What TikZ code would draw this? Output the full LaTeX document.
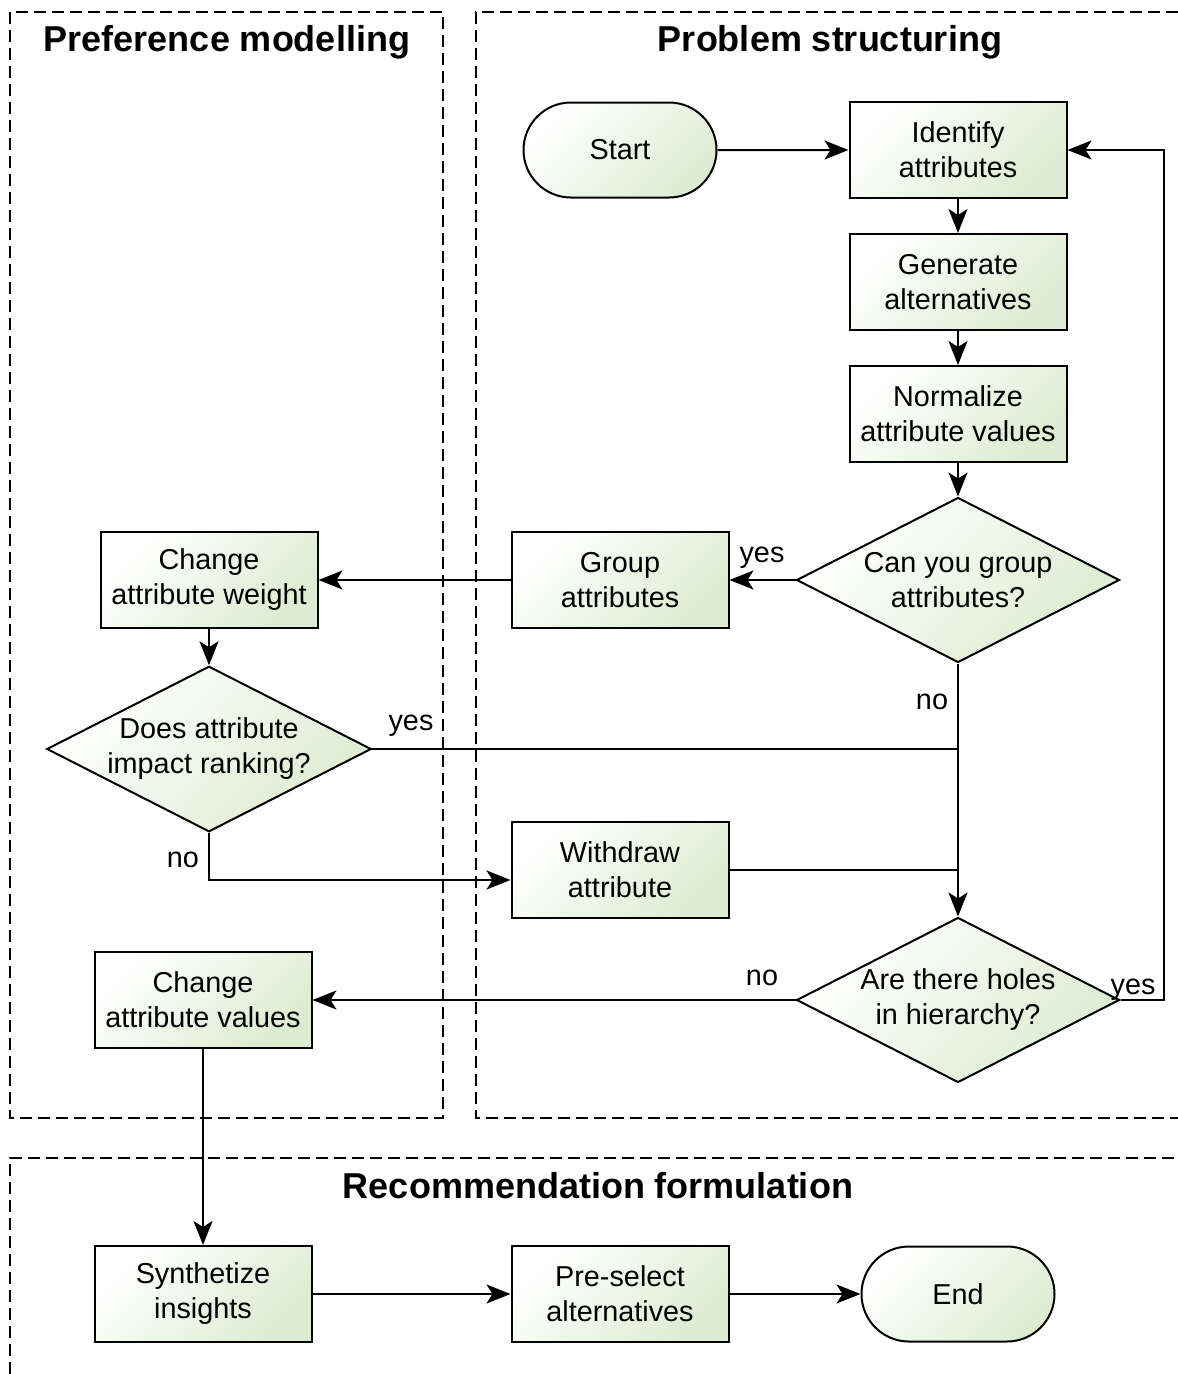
\documentclass[tikz,border=0pt]{standalone}
\usepackage{fontspec}
\setmainfont{Liberation Sans}
\usetikzlibrary{shapes.geometric,shapes.misc,arrows.meta}
\definecolor{boxgreen}{RGB}{220,236,209}

\begin{document}
\begin{tikzpicture}[x=1pt,y=-1pt,
	box/.style={draw, line width=2pt, top color=white, bottom color=boxgreen, shading angle=45, align=center, font=\fontsize{28.8}{35}\selectfont},
	proc/.style={box, rectangle, minimum width=217pt, minimum height=96pt, inner sep=0pt},
	terminal/.style={box, rounded rectangle, minimum width=193pt, minimum height=95pt, inner sep=0pt},
	decision/.style={box, diamond, aspect=1.96, minimum width=323pt, minimum height=165pt, inner sep=0pt},
	lane/.style={line width=1.5pt, dash pattern=on 12pt off 6pt},
	lanetitle/.style={font=\fontsize{36}{43}\selectfont\bfseries},
	answer/.style={font=\fontsize{28.8}{35}\selectfont, inner sep=0pt},
	line/.style={line width=2pt},
	flow/.style={line, -{Stealth[length=24pt, width=19pt, inset=6pt]}}]
			\useasboundingbox (0,0) rectangle (1178,1374);
			
			% Corsie
			\draw[lane] (10,12) rectangle (443,1118);
			\draw[lane] (1178,12) -- (476,12) -- (476,1118) -- (1178,1118);
			\draw[lane] (10,1374) -- (10,1158) -- (1178,1158);
			\node[lanetitle] (tPref) at (227,42) {Preference modelling};
			\node[lanetitle] (tProb) at (830,42) {Problem structuring};
			\node[lanetitle] (tReco) at (598,1186) {Recommendation formulation};
			
			% Strutturazione del problema
			\node[terminal] (start) at (620,150) {Start};
			\node[proc] (identify) at (958,150) {Identify\\attributes};
			\node[proc] (generate) at (958,282) {Generate\\alternatives};
			\node[proc] (normalize) at (958,414) {Normalize\\attribute values};
			\node[decision] (dGroup) at (958,580) {Can you group\\attributes?};
			\node[proc] (group) at (620,580) {Group\\attributes};
			\node[proc] (withdraw) at (620,870) {Withdraw\\attribute};
			\node[decision] (dHoles) at (958,1000) {Are there holes\\in hierarchy?};
			
			% Modellazione delle preferenze
			\node[proc] (weight) at (209,580) {Change\\attribute weight};
			\node[decision] (dAttr) at (209,749) {Does attribute\\impact ranking?};
			\node[proc] (values) at (203,1000) {Change\\attribute values};
			
			% Raccomandazione
			\node[proc] (synth) at (203,1294) {Synthetize\\insights};
			\node[proc] (presel) at (620,1294) {Pre-select\\alternatives};
			\node[terminal] (end) at (958,1294) {End};
			
			% Etichette
			\node[answer] (yGroup) at (762,558) {yes};
			\node[answer] (nGroup) at (932,702) {no};
			\node[answer] (yAttr) at (411,726) {yes};
			\node[answer] (nAttr) at (183,860) {no};
			\node[answer] (nHoles) at (762,978) {no};
			\node[answer] (yHoles) at (1133,990) {yes};
			
			\coordinate (jYes) at (958,749);
			\coordinate (jDrop) at (958,870);
			\coordinate (loopR) at (1164,1000);
			
			% Archi
			\draw[flow] (start) -- (identify);
			\draw[flow] (identify) -- (generate);
			\draw[flow] (generate) -- (normalize);
			\draw[flow] (normalize) -- (dGroup);
			\draw[flow] (dGroup.west) -- (group);
			\draw[flow] (group) -- (weight);
			\draw[flow] (weight) -- (dAttr.north);
			\draw[flow] (dGroup.south) -- (dHoles.north);
			\draw[line] (dAttr.east) -- (jYes);
			\draw[flow] (dAttr.south) |- ([yshift=-10pt]withdraw.west);
			\draw[line] (withdraw.east) -- (jDrop);
			\draw[flow] (dHoles.east) -- (loopR) |- (identify.east);
			\draw[flow] (dHoles.west) -- (values);
			\draw[flow] (values) -- (synth);
			\draw[flow] (synth) -- (presel);
			\draw[flow] (presel) -- (end);
		\end{tikzpicture}
\end{document}
